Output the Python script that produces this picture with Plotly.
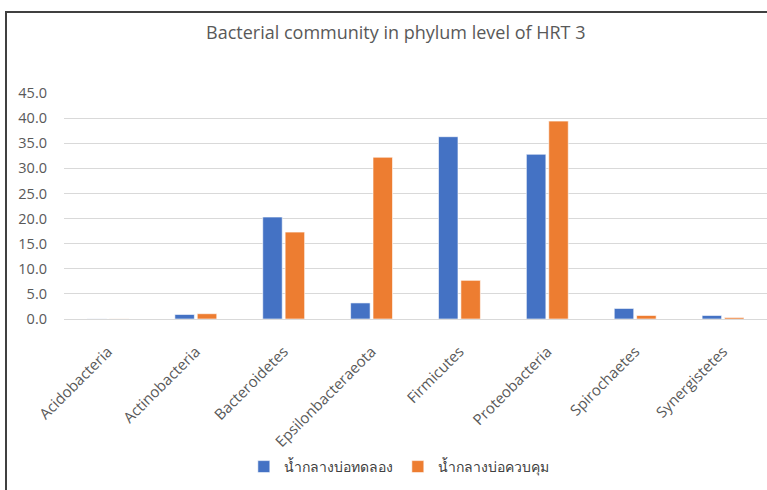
import plotly.graph_objects as go

categories = ["Acidobacteria", "Actinobacteria", "Bacteroidetes", "Epsilonbacteraeota",
              "Firmicutes", "Proteobacteria", "Spirochaetes", "Synergistetes"]
series_names = ["น้ำกลางบ่อทดลอง", "น้ำกลางบ่อควบคุม"]
experimental = [0.02, 0.9, 20.3, 3.2, 36.3, 32.8, 2.1, 0.7]
control = [0.02, 1.05, 17.3, 32.2, 7.7, 39.4, 0.7, 0.3]
y_ticks = [0, 5, 10, 15, 20, 25, 30, 35, 40, 45]
y_tick_labels = [f"{v:.1f}" for v in y_ticks]

W, H = 767, 490
fig = go.Figure()
fig.add_trace(go.Bar(x=categories, y=experimental, name=series_names[0],
                     marker=dict(color="#4472C4", line=dict(color="#ffffff", width=0.6))))
fig.add_trace(go.Bar(x=categories, y=control, name=series_names[1],
                     marker=dict(color="#ED7D31", line=dict(color="#ffffff", width=0.6))))

font_fam = "Open Sans, Noto Sans, DejaVu Sans, sans-serif"
fig.update_layout(
    width=W, height=H,
    margin=dict(l=64, r=0, t=93, b=171),
    paper_bgcolor="white", plot_bgcolor="white",
    barmode="group", bargap=0.49, bargroupgap=0.13,
    font=dict(family=font_fam, color="#595959", size=14),
    title=dict(text="Bacterial community in phylum level of HRT 3",
               x=0.516, xanchor="center", y=1 - 33 / H, yanchor="middle",
               font=dict(size=18, color="#595959")),
    showlegend=True,
    legend=dict(orientation="h", xref="container", yref="container",
                x=0.52, xanchor="center", y=1 - 467 / H, yanchor="middle",
                font=dict(size=14, color="#404040"), itemwidth=30,
                traceorder="normal"),
    xaxis=dict(tickangle=-45, showgrid=False, zeroline=False, showline=False,
               automargin=False,
               ticks="", ticklabelstandoff=20, tickfont=dict(size=15, color="#595959")),
    yaxis=dict(range=[0, 45], tickvals=y_ticks, ticktext=y_tick_labels,
               automargin=False,
               showgrid=True, gridcolor="#d9d9d9", gridwidth=1,
               zeroline=True, zerolinecolor="#d9d9d9", zerolinewidth=1,
               showline=False, ticks="", ticklabelstandoff=16,
               tickfont=dict(size=14.5, color="#595959")),
    shapes=[dict(type="rect", xref="paper", yref="paper",
                 x0=-(64 - 6) / (W - 64), x1=(W + 20 - 64) / (W - 64),
                 y0=-(171 + 20) / (H - 93 - 171), y1=1 + (93 - 12) / (H - 93 - 171),
                 line=dict(color="#404040", width=2), fillcolor="rgba(0,0,0,0)",
                 layer="below")],
)
fig.write_html("out.html")
